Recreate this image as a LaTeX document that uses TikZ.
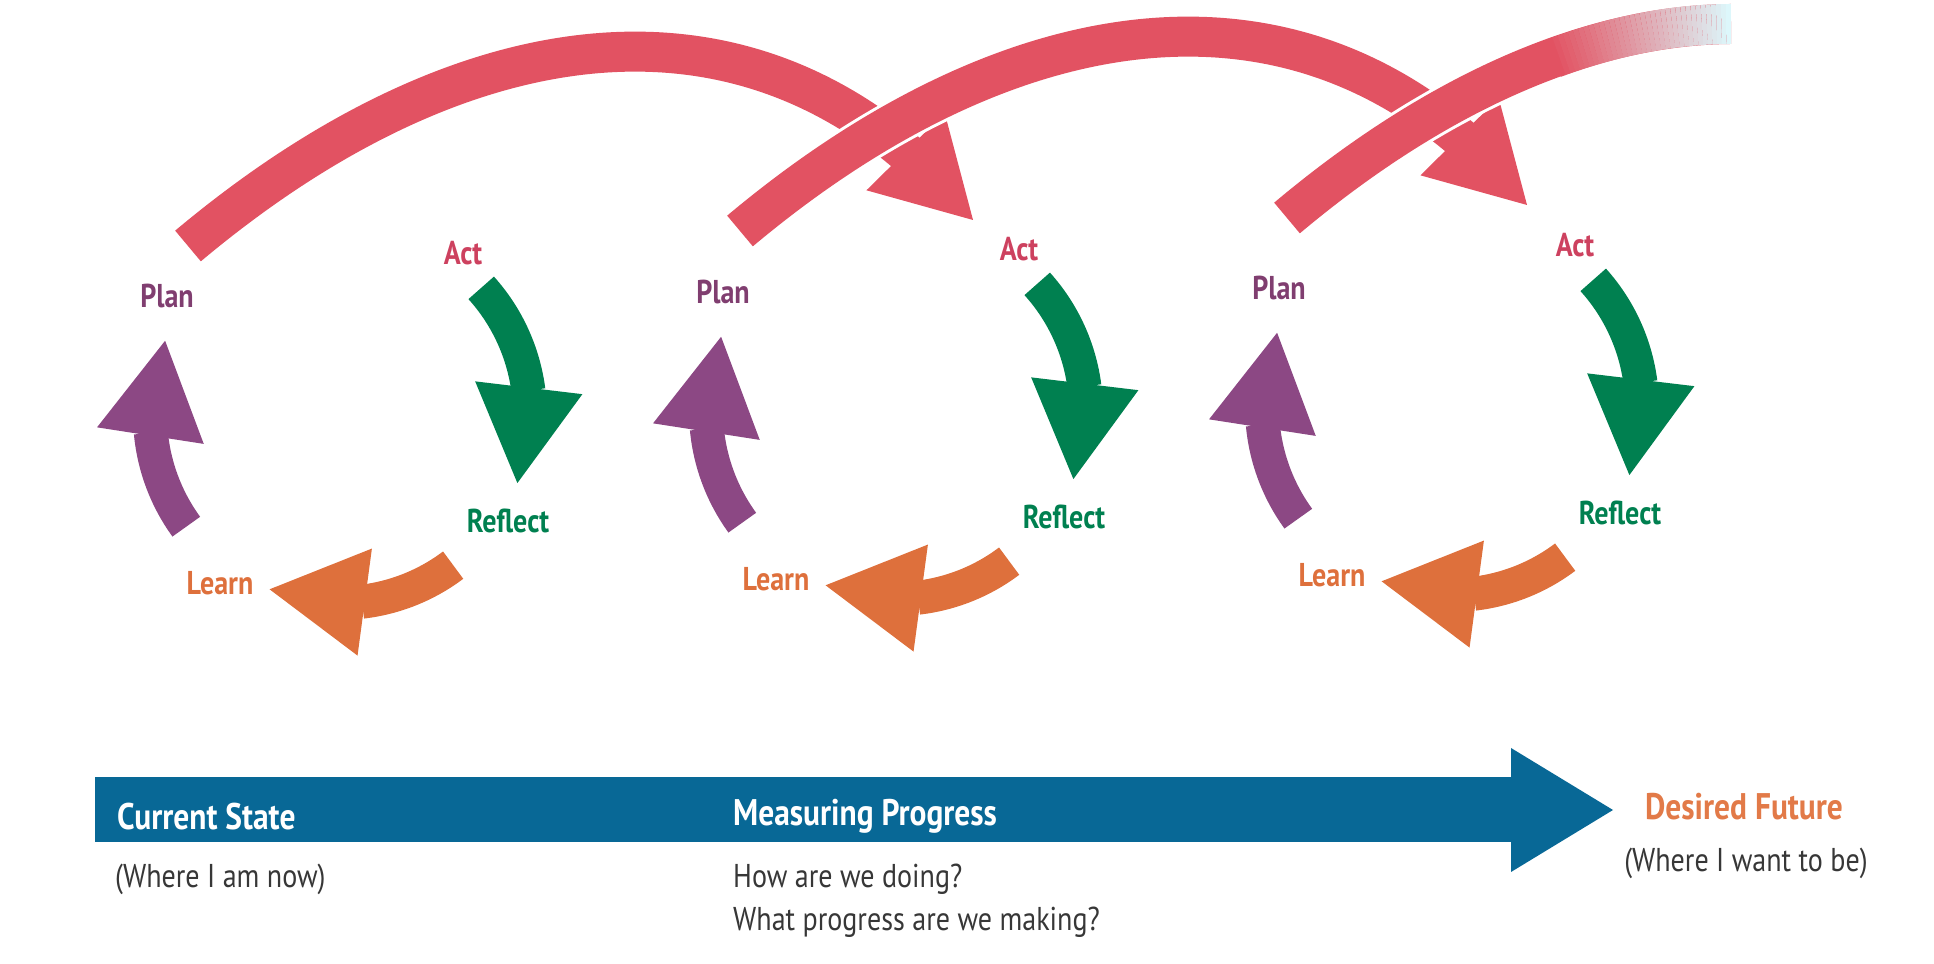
\documentclass[tikz,border=0pt]{standalone}
\usepackage{fontspec}
\setmainfont{PT Sans}[FakeStretch=0.85]
\usetikzlibrary{arrows.meta, bending}
\definecolor{arcred}{RGB}{226,82,98}
\definecolor{actred}{RGB}{205,65,95}
\definecolor{planpurple}{RGB}{128,62,112}
\definecolor{arrowpurple}{RGB}{140,72,132}
\definecolor{reflectgreen}{RGB}{0,128,80}
\definecolor{learnorange}{RGB}{222,112,60}
\definecolor{futureorange}{RGB}{226,122,72}
\definecolor{progblue}{RGB}{8,104,150}
\definecolor{notegrey}{RGB}{55,55,55}
\definecolor{fadegrey}{RGB}{222,214,220}

\begin{document}
\begin{tikzpicture}[x=1pt, y=1pt,
  stagetext/.style={font=\bfseries\fontsize{33}{38}\selectfont, inner sep=0pt, anchor=base},
  cyclearrow/.style={line width=34pt, -{Triangle[length=96pt, width=108pt, line width=0pt, flex]}},
  leaparrow/.style={line width=40pt, draw=arcred, preaction={draw=white, line width=46pt}},
  leaphead/.style={-{Triangle[length=96pt, width=110pt, line width=0pt, flex]}},
  bandtext/.style={font=\bfseries\fontsize{37}{42}\selectfont, inner sep=0pt, anchor=base west},
  notetext/.style={font=\fontsize{33}{38}\selectfont, text=notegrey, inner sep=0pt, anchor=base west}]
\useasboundingbox (0,0) rectangle (1934,963);

\coordinate (leap1) at (188,717);
\coordinate (leap2) at (740,732);
\coordinate (leap3) at (1287,745);
\coordinate (hit2) at (973,743);
\coordinate (hit3) at (1527,758);
\coordinate (fadestart) at (1554,905);
\coordinate (fade) at (1731,939);

\draw[leaparrow, leaphead] (leap1) .. controls +(267,224) and +(-215,256) .. (hit2);
\draw[leaparrow, leaphead] (leap2) .. controls +(267,224) and +(-215,256) .. (hit3);
\draw[leaparrow] (leap3) .. controls +(144,121) and +(-146,-1) .. (fade);
\path (fadestart) .. controls +(60,22) and +(-58,0) .. (fade)
  foreach \k in {0,...,36} {coordinate[pos=\k/36] (f\k)};
\foreach \k [count=\n from 1, evaluate=\k as \p using int(100-100*\k/28)] in {0,...,35}
  \draw[line width=40pt, draw=arcred!\p!fadegrey] (f\k) -- (f\n);

\foreach \i/\x/\y in {1/340/548, 2/896/552, 3/1452/556}{
  \coordinate (c\i) at (\x,\y);
  \draw[cyclearrow, draw=reflectgreen] (c\i) ++(42:190) arc[start angle=42, end angle=-21, radius=190];
  \draw[cyclearrow, draw=learnorange] (c\i) ++(-53:188) arc[start angle=-53, end angle=-112, radius=188];
  \draw[cyclearrow, draw=arrowpurple] (c\i) ++(216:190) arc[start angle=216, end angle=157, radius=190];
  \node[stagetext, text=planpurple] (plan\i) at ([shift={(-173,107)}]c\i) {Plan};
  \node[stagetext, text=actred] (act\i) at ([shift={(123,150)}]c\i) {Act};
  \node[stagetext, text=reflectgreen] (reflect\i) at ([shift={(168,-118)}]c\i) {Reflect};
  \node[stagetext, text=learnorange] (learn\i) at ([shift={(-120,-180)}]c\i) {Learn};
}

\coordinate (now) at (95,153);
\coordinate (future) at (1613,153);
\draw[progblue, line width=65pt, -{Triangle[length=102pt, width=124pt, line width=0pt]}] (now) -- (future);

\node[bandtext, text=white] (current) at (117,133) {Current State};
\node[bandtext, text=white] (measuring) at (733,137) {Measuring Progress};
\node[bandtext, text=futureorange, anchor=base] (desired) at (1744,143) {Desired Future};
\node[notetext] (wherenow) at (115,75) {(Where I am now)};
\node[notetext] (doing) at (733,75) {How are we doing?};
\node[notetext] (making) at (733,32) {What progress are we making?};
\node[notetext, anchor=base] (wherewant) at (1746,91) {(Where I want to be)};
\end{tikzpicture}
\end{document}
